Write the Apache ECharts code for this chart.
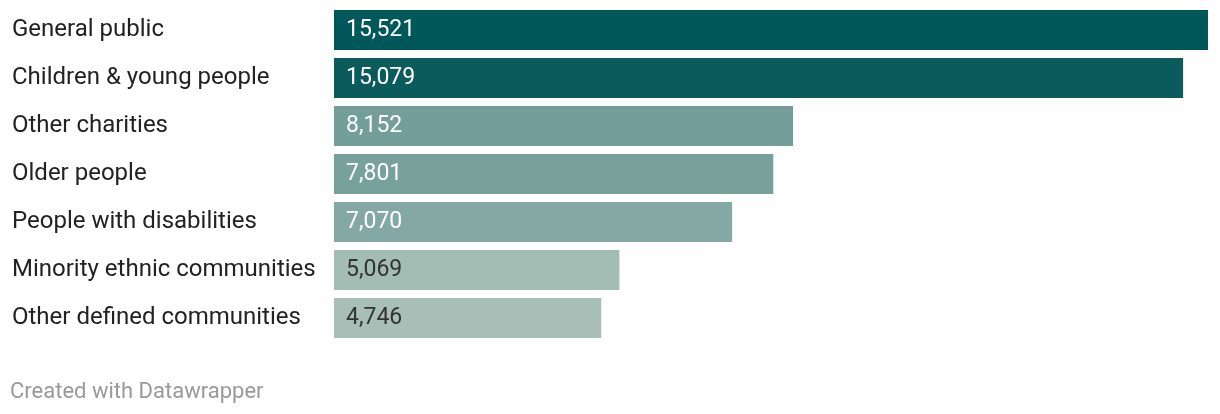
<!DOCTYPE html>
<html><head><meta charset="utf-8">
<script src="https://cdn.jsdelivr.net/npm/echarts@6/dist/echarts.min.js"></script>
<style>html,body{margin:0;padding:0;background:#fff;}#c{width:1220px;height:414px;}</style>
</head><body><div id="c"></div>
<script>
const categories = ["General public","Children & young people","Other charities","Older people","People with disabilities","Minority ethnic communities","Other defined communities"];
const values = [15521,15079,8152,7801,7070,5069,4746];
const barColors = ["#00585a","#0b5b5c","#739e99","#79a19c","#84a8a3","#a3bdb5","#a7bfb7"];
const labelColors = ["#ffffff","#ffffff","#ffffff","#ffffff","#ffffff","#333333","#333333"];
const footer = "Created with Datawrapper";

const chart = echarts.init(document.getElementById('c'), null, {renderer:'canvas'});
chart.setOption({
  animation:false,
  textStyle:{fontFamily:'Roboto'},
  grid:{left:334,right:12,top:6,height:336,containLabel:false},
  xAxis:{type:'value',min:0,max:15521,show:false},
  yAxis:{type:'category',data:categories,inverse:true,
    axisLine:{show:false},axisTick:{show:false},splitLine:{show:false},
    axisLabel:{align:'left',margin:322,fontSize:24,color:'#222',fontFamily:'Roboto',padding:[7,0,0,0]}},
  series:[{type:'bar',barWidth:40,
    data:values.map((v,i)=>({value:v,itemStyle:{color:barColors[i]},label:{color:labelColors[i]}})),
    label:{show:true,position:'insideLeft',distance:12,fontSize:23,fontFamily:'Roboto',padding:[7,0,0,0],
      formatter:p=>p.value.toLocaleString('en-US')}}],
  graphic:[{type:'text',left:10,top:381,style:{text:footer,fontSize:22,fill:'#999',fontFamily:'Roboto'}}]
});
</script></body></html>
